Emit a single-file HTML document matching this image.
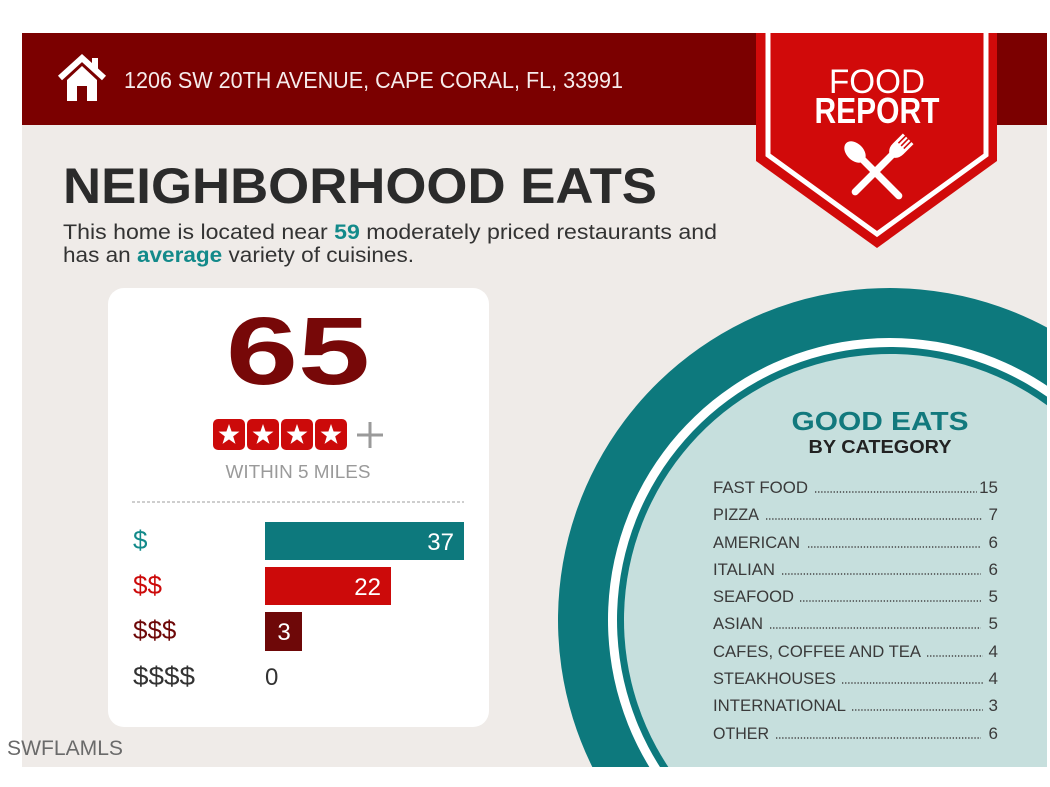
<!DOCTYPE html>
<html>
<head>
<meta charset="utf-8">
<style>
html,body{margin:0;padding:0;background:#ffffff;width:1050px;height:787px;overflow:hidden;}
svg{display:block;position:absolute;left:0;top:0;}
text{font-family:"Liberation Sans",Arial,sans-serif;}
</style>
</head>
<body>
<svg width="1050" height="787" viewBox="0 0 1050 787" xmlns="http://www.w3.org/2000/svg">
  <defs>
    <polygon id="star" points="0,-11 2.59,-3.56 10.46,-3.4 4.18,1.36 6.47,8.9 0,4.4 -6.47,8.9 -4.18,1.36 -10.46,-3.4 -2.59,-3.56" fill="#ffffff"/>
  </defs>

  <!-- content background -->
  <rect x="22" y="33" width="1025" height="734" fill="#efebe8"/>

  <!-- big plate circle (pre-clipped paths) -->
  <path d="M592.32,767 A332,332 0 0 1 1047,327.47 L1047,767 Z" fill="#0d797d"/>
  <path d="M649.34,767 A282,282 0 0 1 1047,385.75 L1047,767 Z" fill="#ffffff"/>
  <path d="M659.96,767 A273,273 0 0 1 1047,396.66 L1047,767 Z" fill="#0d797d"/>
  <path d="M668.31,767 A266,266 0 0 1 1047,405.27 L1047,767 Z" fill="#c6dfdd"/>

  <!-- header bar -->
  <rect x="22" y="33" width="1025" height="92" fill="#7b0000"/>

  <!-- house icon -->
  <g fill="#ffffff">
    <polyline points="60,78 82,58 104,78" fill="none" stroke="#ffffff" stroke-width="6" stroke-linejoin="miter"/>
    <rect x="92" y="58" width="6" height="12"/>
    <polygon points="67,80 82,66 97,80 97,101 67,101"/>
    <rect x="77" y="86" width="10" height="15" fill="#7b0000"/>
  </g>
  <text x="124" y="88" font-size="23" fill="#f6ecec" textLength="499" lengthAdjust="spacingAndGlyphs">1206 SW 20TH AVENUE, CAPE CORAL, FL, 33991</text>

  <!-- food report banner -->
  <polygon points="756,33 997,33 997,161 877,248 756,161" fill="#d10a0a"/>
  <polyline points="768,33 768,155 877,234 986,155 986,33" fill="none" stroke="#ffffff" stroke-width="5"/>
  <text x="877" y="93" font-size="34" fill="#ffffff" text-anchor="middle" textLength="96" lengthAdjust="spacingAndGlyphs">FOOD</text>
  <text x="877" y="123" font-size="36" font-weight="bold" fill="#ffffff" text-anchor="middle" textLength="125" lengthAdjust="spacingAndGlyphs">REPORT</text>
  <!-- spoon -->
  <g transform="translate(855,152) rotate(-45)" fill="#ffffff">
    <ellipse cx="0" cy="0" rx="8.5" ry="12.5"/>
    <line x1="0" y1="8" x2="0" y2="62" stroke="#ffffff" stroke-width="7" stroke-linecap="round"/>
  </g>
  <!-- fork -->
  <g transform="translate(899,148) rotate(45)" fill="#ffffff">
    <path d="M-7.5,-13 L7.5,-13 L7.5,1 Q7.5,8 2.5,11 L-2.5,11 Q-7.5,8 -7.5,1 Z"/>
    <line x1="0" y1="8" x2="0" y2="62" stroke="#ffffff" stroke-width="7" stroke-linecap="round"/>
    <line x1="-3.8" y1="-14" x2="-3.8" y2="-3" stroke="#d10a0a" stroke-width="1.6"/>
    <line x1="0" y1="-14" x2="0" y2="-3" stroke="#d10a0a" stroke-width="1.6"/>
    <line x1="3.8" y1="-14" x2="3.8" y2="-3" stroke="#d10a0a" stroke-width="1.6"/>
  </g>

  <!-- title -->
  <text x="63" y="203" font-size="50" font-weight="bold" fill="#2b2b2b" textLength="594" lengthAdjust="spacingAndGlyphs">NEIGHBORHOOD EATS</text>
  <text x="63" y="239" font-size="21" fill="#333333" textLength="654" lengthAdjust="spacingAndGlyphs">This home is located near <tspan font-weight="bold" fill="#138a8a">59</tspan> moderately priced restaurants and</text>
  <text x="63" y="262" font-size="21" fill="#333333" textLength="351" lengthAdjust="spacingAndGlyphs">has an <tspan font-weight="bold" fill="#138a8a">average</tspan> variety of cuisines.</text>

  <!-- score card -->
  <rect x="108" y="288" width="381" height="439" rx="16" fill="#ffffff"/>
  <text x="298" y="384" font-size="96" font-weight="bold" fill="#770808" text-anchor="middle" textLength="144" lengthAdjust="spacingAndGlyphs">65</text>

  <g>
    <rect x="213" y="419" width="32" height="31" rx="5" fill="#cc0a0a"/>
    <rect x="247" y="419" width="32" height="31" rx="5" fill="#cc0a0a"/>
    <rect x="281" y="419" width="32" height="31" rx="5" fill="#cc0a0a"/>
    <rect x="315" y="419" width="32" height="31" rx="5" fill="#cc0a0a"/>
    <use href="#star" x="229" y="435"/>
    <use href="#star" x="263" y="435"/>
    <use href="#star" x="297" y="435"/>
    <use href="#star" x="331" y="435"/>
    <line x1="357" y1="435" x2="383" y2="435" stroke="#9a9a9a" stroke-width="3"/>
    <line x1="370" y1="422" x2="370" y2="448" stroke="#9a9a9a" stroke-width="3"/>
  </g>
  <text x="298" y="478" font-size="18" fill="#9a9a9a" text-anchor="middle" textLength="145" lengthAdjust="spacingAndGlyphs">WITHIN 5 MILES</text>
  <line x1="132" y1="502" x2="464" y2="502" stroke="#b0b0b0" stroke-width="1.2" stroke-dasharray="3 2"/>

  <!-- price bars -->
  <rect x="265" y="522" width="199" height="38" fill="#0d797d"/>
  <rect x="265" y="567" width="126" height="38" fill="#cc0a0a"/>
  <rect x="265" y="612" width="37" height="39" fill="#6e0808"/>
  <text x="454" y="550" font-size="24" fill="#ffffff" text-anchor="end">37</text>
  <text x="381" y="595" font-size="24" fill="#ffffff" text-anchor="end">22</text>
  <text x="284" y="640" font-size="24" fill="#ffffff" text-anchor="middle">3</text>
  <text x="265" y="685" font-size="24" fill="#333333">0</text>

  <text x="133" y="549" font-size="26" fill="#138a8a">$</text>
  <text x="133" y="594" font-size="26" fill="#cc0a0a">$$</text>
  <text x="133" y="639" font-size="26" fill="#6e0808">$$$</text>
  <text x="133" y="685" font-size="26" fill="#333333" textLength="62" lengthAdjust="spacingAndGlyphs">$$$$</text>

  <!-- good eats -->
  <text x="880" y="430" font-size="26" font-weight="bold" fill="#12797d" text-anchor="middle" textLength="177" lengthAdjust="spacingAndGlyphs">GOOD EATS</text>
  <text x="880" y="453" font-size="18" font-weight="bold" fill="#222222" text-anchor="middle" textLength="143" lengthAdjust="spacingAndGlyphs">BY CATEGORY</text>

  <g font-size="17" fill="#3a3a3a">
    <text x="713" y="493" textLength="95" lengthAdjust="spacingAndGlyphs">FAST FOOD</text>
    <text x="998" y="493" text-anchor="end">15</text>
    <text x="713" y="520" textLength="46" lengthAdjust="spacingAndGlyphs">PIZZA</text>
    <text x="998" y="520" text-anchor="end">7</text>
    <text x="713" y="548" textLength="87" lengthAdjust="spacingAndGlyphs">AMERICAN</text>
    <text x="998" y="548" text-anchor="end">6</text>
    <text x="713" y="575" textLength="62" lengthAdjust="spacingAndGlyphs">ITALIAN</text>
    <text x="998" y="575" text-anchor="end">6</text>
    <text x="713" y="602" textLength="81" lengthAdjust="spacingAndGlyphs">SEAFOOD</text>
    <text x="998" y="602" text-anchor="end">5</text>
    <text x="713" y="629" textLength="50" lengthAdjust="spacingAndGlyphs">ASIAN</text>
    <text x="998" y="629" text-anchor="end">5</text>
    <text x="713" y="657" textLength="208" lengthAdjust="spacingAndGlyphs">CAFES, COFFEE AND TEA</text>
    <text x="998" y="657" text-anchor="end">4</text>
    <text x="713" y="684" textLength="123" lengthAdjust="spacingAndGlyphs">STEAKHOUSES</text>
    <text x="998" y="684" text-anchor="end">4</text>
    <text x="713" y="711" textLength="133" lengthAdjust="spacingAndGlyphs">INTERNATIONAL</text>
    <text x="998" y="711" text-anchor="end">3</text>
    <text x="713" y="739" textLength="56" lengthAdjust="spacingAndGlyphs">OTHER</text>
    <text x="998" y="739" text-anchor="end">6</text>
  </g>
  <g stroke="#444444" stroke-width="1.5" stroke-dasharray="1.3 1.8">
    <line x1="815" y1="492" x2="977" y2="492"/>
    <line x1="766" y1="519" x2="983" y2="519"/>
    <line x1="808" y1="547" x2="981" y2="547"/>
    <line x1="782" y1="574" x2="981" y2="574"/>
    <line x1="800" y1="601" x2="981" y2="601"/>
    <line x1="770" y1="628" x2="981" y2="628"/>
    <line x1="927" y1="656" x2="983" y2="656"/>
    <line x1="842" y1="683" x2="983" y2="683"/>
    <line x1="852" y1="710" x2="983" y2="710"/>
    <line x1="776" y1="738" x2="981" y2="738"/>
  </g>

  <!-- watermark -->
  <text x="7" y="755" font-size="21" fill="#6a6a6a" textLength="116" lengthAdjust="spacingAndGlyphs">SWFLAMLS</text>
</svg>
</body>
</html>
